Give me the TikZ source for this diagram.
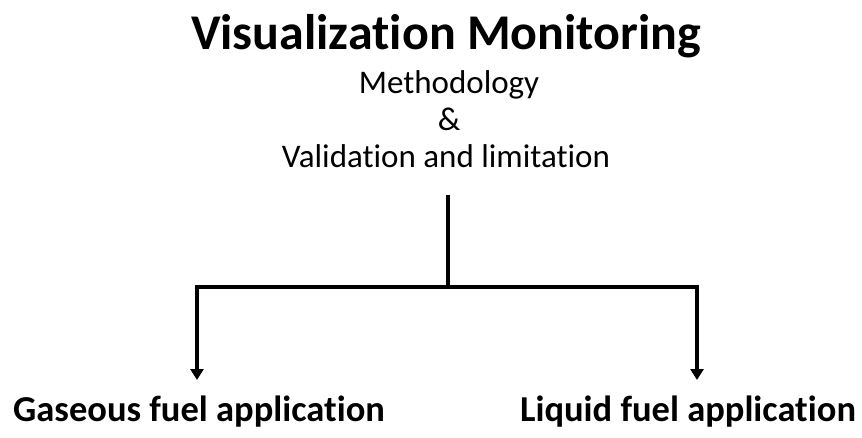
\documentclass[tikz,border=0pt]{standalone}
\usepackage{fontspec}
\setmainfont{Carlito}[Ligatures=NoCommon]
\usetikzlibrary{arrows.meta}
\begin{document}
\begin{tikzpicture}[x=1pt,y=1pt,
  titletext/.style={font=\fontsize{50}{52}\selectfont\bfseries, anchor=base, inner sep=0pt},
  subtext/.style={font=\fontsize{33}{36}\selectfont, anchor=base, inner sep=0pt},
  leaftext/.style={font=\fontsize{36.5}{40}\selectfont\bfseries, anchor=base, inner sep=0pt},
  conn/.style={line width=4.5pt, line join=miter},
  arr/.style={conn, -{Triangle[length=11pt,width=13pt]}}]
\useasboundingbox (0,0) rectangle (862,437);
\node[titletext] (title) at (446,387) {Visualization Monitoring};
\node[subtext] (meth) at (449,343) {Methodology};
\node[subtext] (amp) at (449,306) {\&};
\node[subtext] (val) at (446,269) {Validation and limitation};
\node[leaftext] (gas) at (199,16) {Gaseous fuel application};
\node[leaftext] (liq) at (688,16) {Liquid fuel application};
\coordinate (top) at (448,242);
\coordinate (j) at (448,150);
\coordinate (tipl) at (197,57);
\coordinate (tipr) at (697,57);
\draw[conn] (top) -- (j);
\draw[arr] (j) -| (tipl);
\draw[arr] (j) -| (tipr);
\end{tikzpicture}
\end{document}
